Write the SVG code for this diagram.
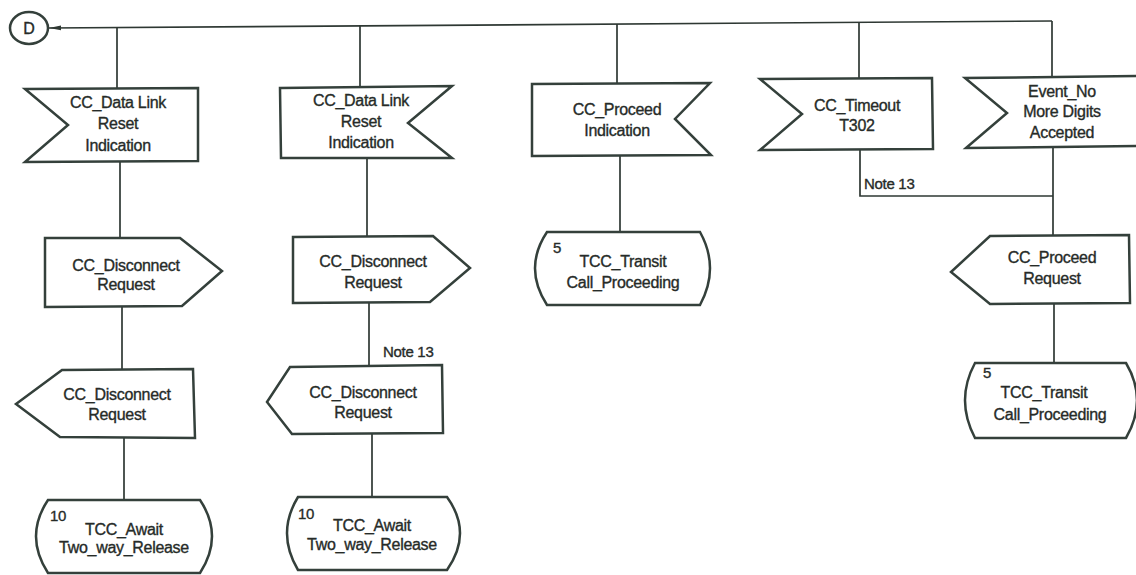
<svg xmlns="http://www.w3.org/2000/svg" width="1136" height="575" viewBox="0 0 1136 575">
<style>
.bg{fill:#ffffff}
.sym{fill:#ffffff;stroke:#34403b;stroke-width:2.5;stroke-linejoin:miter}
.ln{fill:none;stroke:#2e3833;stroke-width:1.7}
text{font-family:"Liberation Sans",Arial,Helvetica,sans-serif;font-size:16px;fill:#262b28;stroke:#262b28;stroke-width:0.35;text-anchor:middle;letter-spacing:-0.3px}
.num{text-anchor:start;font-size:15px}
.note{text-anchor:start;font-size:15px}
</style>
<defs>
<marker id="arr" viewBox="0 0 12 6" refX="12" refY="3" markerWidth="12" markerHeight="6" markerUnits="userSpaceOnUse" orient="auto">
<path d="M0,0.6 L12,3 L0,5.4 Z" fill="#2e3833"/>
</marker>
</defs>
<rect class="bg" x="0" y="0" width="1136" height="575"/>

<g id="connectors">
<line class="ln" x1="1052" y1="21" x2="49" y2="28" marker-end="url(#arr)"/>
<line class="ln" x1="117" y1="28" x2="117" y2="89"/>
<line class="ln" x1="120" y1="162" x2="120" y2="238"/>
<line class="ln" x1="122" y1="307" x2="122" y2="369"/>
<line class="ln" x1="124" y1="438" x2="124" y2="500"/>
<line class="ln" x1="360" y1="26" x2="360" y2="87"/>
<line class="ln" x1="367" y1="158" x2="367" y2="236"/>
<line class="ln" x1="369" y1="303" x2="369" y2="366"/>
<line class="ln" x1="372" y1="434" x2="372" y2="497"/>
<line class="ln" x1="617" y1="24" x2="617" y2="84"/>
<line class="ln" x1="620" y1="156" x2="620" y2="232"/>
<line class="ln" x1="859" y1="22" x2="859" y2="79"/>
<polyline class="ln" points="860,150 860,196 1053,196"/>
<line class="ln" x1="1052" y1="21" x2="1052" y2="77"/>
<line class="ln" x1="1053" y1="147" x2="1053" y2="236"/>
<line class="ln" x1="1054" y1="304" x2="1054" y2="363"/>
<text class="note" x="383" y="357">Note 13</text>
<text class="note" x="864" y="189">Note 13</text>
</g>

<g id="connector-D">
<ellipse class="sym" cx="29" cy="28" rx="19" ry="16"/>
<text x="29" y="34" font-size="15">D</text>
</g>

<g id="n1">
<polygon class="sym" points="25,89 198,88 198,161 25,162 68,125"/>
<text x="118" y="108">CC_Data Link</text>
<text x="118" y="129">Reset</text>
<text x="118" y="151">Indication</text>
</g>

<g id="n2">
<polygon class="sym" points="280,88 452,86 408,123 452,158 281,158"/>
<text x="361" y="106">CC_Data Link</text>
<text x="361" y="127">Reset</text>
<text x="361" y="148">Indication</text>
</g>

<g id="n3">
<polygon class="sym" points="532,84 710,83 675,119 711,155 532,156"/>
<text x="617" y="115">CC_Proceed</text>
<text x="617" y="136">Indication</text>
</g>

<g id="n4">
<polygon class="sym" points="760,79 932,78 933,149 760,150 802,114"/>
<text x="857" y="111">CC_Timeout</text>
<text x="857" y="131">T302</text>
</g>

<g id="n5">
<polyline class="sym" points="1140,76 965,78 1007,113 966,148 1140,146"/>
<text x="1062" y="97">Event_No</text>
<text x="1062" y="117">More Digits</text>
<text x="1062" y="138">Accepted</text>
</g>

<g id="n6">
<polygon class="sym" points="45,238 180,238 222,271 182,306 45,307"/>
<text x="126" y="271">CC_Disconnect</text>
<text x="126" y="290">Request</text>
</g>

<g id="n7">
<polygon class="sym" points="293,237 433,236 470,268 430,302 293,303"/>
<text x="373" y="267">CC_Disconnect</text>
<text x="373" y="288">Request</text>
</g>

<g id="n8">
<polygon class="sym" points="62,370 193,369 195,438 60,437 16,404"/>
<text x="117" y="400">CC_Disconnect</text>
<text x="117" y="420">Request</text>
</g>

<g id="n9">
<polygon class="sym" points="290,367 442,365 443,433 292,434 267,402"/>
<text x="363" y="398">CC_Disconnect</text>
<text x="363" y="418">Request</text>
</g>

<g id="n10">
<path class="sym" d="M48,500 L200,500 Q224,536 200,573 L48,573 Q24,536 48,500 Z"/>
<text class="num" x="50" y="521">10</text>
<text x="124" y="535">TCC_Await</text>
<text x="124" y="553">Two_way_Release</text>
</g>

<g id="n11">
<path class="sym" d="M298,497 L447,497 Q473,533 447,570 L298,570 Q276,533 298,497 Z"/>
<text class="num" x="298" y="519">10</text>
<text x="372" y="531">TCC_Await</text>
<text x="372" y="550">Two_way_Release</text>
</g>

<g id="n12">
<path class="sym" d="M547,232 L700,232 Q720,268 700,305 L547,305 Q523,268 547,232 Z"/>
<text class="num" x="553" y="253">5</text>
<text x="623" y="267">TCC_Transit</text>
<text x="623" y="288">Call_Proceeding</text>
</g>

<g id="n13">
<polygon class="sym" points="990,236 1129,235 1130,303 990,304 951,272"/>
<text x="1052" y="263">CC_Proceed</text>
<text x="1052" y="284">Request</text>
</g>

<g id="n14">
<path class="sym" d="M975,363 L1126,363 Q1148,400 1126,438 L975,438 Q955,400 975,363 Z"/>
<text class="num" x="983" y="378">5</text>
<text x="1044" y="398">TCC_Transit</text>
<text x="1050" y="420">Call_Proceeding</text>
</g>
</svg>
